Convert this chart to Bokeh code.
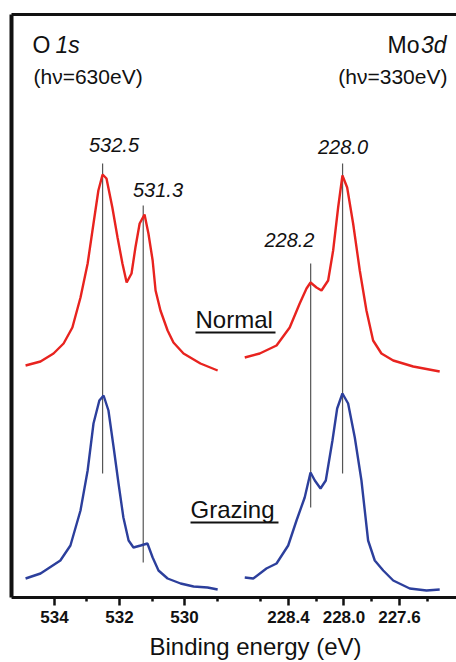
from bokeh.plotting import figure
from bokeh.models import Range1d, LinearAxis, FixedTicker, Label, NumeralTickFormatter
from bokeh.embed import file_html
from bokeh.resources import INLINE

# ---------------- data (binding energy in eV, intensity in arbitrary units) -------------
# O 1s, hv = 630 eV
o1s_be_normal = [534.89, 534.43, 534.03, 533.72, 533.45, 533.20, 532.98, 532.80, 532.65, 532.52,
                 532.40, 532.22, 532.06, 531.91, 531.78, 531.63, 531.51, 531.38, 531.23, 531.11,
                 530.98, 530.89, 530.74, 530.52, 530.34, 530.03, 529.51, 528.98]
o1s_normal = [232, 236, 244, 254, 270, 300, 334, 374, 407, 423,
              419, 390, 360, 334, 315, 324, 350, 374, 383, 364,
              337, 307, 287, 267, 255, 244, 234, 227]

o1s_be_grazing = [534.89, 534.43, 533.82, 533.51, 533.20, 532.98, 532.80, 532.62, 532.49, 532.34,
                  532.18, 532.03, 531.88, 531.72, 531.57, 531.35, 531.14, 530.98, 530.80, 530.52,
                  530.12, 529.72, 529.29, 528.98]
o1s_grazing = [19, 24, 37, 52, 87, 127, 174, 197, 202, 187,
               150, 114, 80, 57, 50, 52, 54, 40, 27, 19,
               14, 11, 10, 8]

# Mo 3d, hv = 330 eV
mo3d_be_normal = [228.715, 228.607, 228.486, 228.391, 228.319, 228.270, 228.241, 228.198, 228.162, 228.114,
                  228.078, 228.042, 228.011, 227.977, 227.934, 227.886, 227.838, 227.790, 227.730, 227.645,
                  227.501, 227.310]
mo3d_normal = [240, 244, 252, 270, 294, 309, 315, 310, 307, 317,
               347, 390, 422, 410, 374, 327, 287, 257, 244, 237,
               231, 226]

mo3d_be_grazing = [228.715, 228.654, 228.559, 228.486, 228.402, 228.342, 228.283, 228.241, 228.210, 228.169,
                   228.131, 228.083, 228.049, 228.011, 227.970, 227.922, 227.874, 227.826, 227.778, 227.717,
                   227.645, 227.526, 227.405, 227.310]
mo3d_grazing = [20, 19, 29, 34, 52, 77, 100, 125, 117, 109,
                117, 157, 189, 204, 194, 160, 117, 57, 37, 27,
                17, 9, 7, 8]

# peak markers
o1s_peak_labels = ["532.5", "531.3"]
o1s_peak_be = [532.52, 531.27]
o1s_peak_top = [434, 392]
o1s_peak_bottom = [124, 35]

mo3d_peak_labels = ["228.2", "228.0"]
mo3d_peak_be = [228.24, 228.01]
mo3d_peak_top = [334, 434]
mo3d_peak_bottom = [90, 124]

# axis ticks
o1s_ticks = [534, 532, 530]
o1s_minor = [533, 531, 529]
mo3d_ticks = [228.4, 228.0, 227.6]
mo3d_minor = [228.6, 228.2, 227.8, 227.4]

x_title = "Binding energy (eV)"

# ---------------- figure -------------------------------------------------------------
FONT = "Liberation Sans"
RED = "#e8231f"
BLUE = "#2c3f9c"
INK = "#111111"
TEXT_SHIFT = 9   # compensation of the text baseline placement

p = figure(width=456, height=662, output_backend="svg", toolbar_location=None,
           x_range=Range1d(535.323, 521.631), y_range=Range1d(-65, 583),
           x_axis_location=None, y_axis_location=None,
           min_border_left=11, min_border_right=0, min_border_top=14, min_border_bottom=0)
p.extra_x_ranges = {"mo": Range1d(230.396, 227.189)}
p.outline_line_color = None
p.grid.visible = False
p.background_fill_color = "white"
p.border_fill_color = "white"


def border_axis(width, bounds="auto"):
    return LinearAxis(ticker=FixedTicker(ticks=[]), axis_line_width=width, axis_line_color=INK,
                      major_tick_out=0, major_tick_in=0, minor_tick_out=0, minor_tick_in=0,
                      major_label_standoff=0, major_label_text_font_size="0px", bounds=bounds)


p.add_layout(border_axis(4, bounds=(0, 583)), "left")
p.add_layout(border_axis(3), "above")


def bottom_axis(ticks, minor, fmt, rng):
    ax = LinearAxis(x_range_name=rng, fixed_location=0,
                    ticker=FixedTicker(ticks=ticks, minor_ticks=minor),
                    formatter=NumeralTickFormatter(format=fmt))
    ax.axis_line_width = 3
    ax.axis_line_color = INK
    ax.major_tick_out = 8
    ax.major_tick_in = 0
    ax.minor_tick_out = 4
    ax.minor_tick_in = 0
    ax.major_tick_line_width = 2.5
    ax.minor_tick_line_width = 2.5
    ax.major_tick_line_color = INK
    ax.minor_tick_line_color = INK
    ax.major_label_standoff = 5
    ax.major_label_text_font = FONT
    ax.major_label_text_font_style = "bold"
    ax.major_label_text_font_size = "17px"
    ax.major_label_text_color = INK
    p.add_layout(ax, "below")


bottom_axis(o1s_ticks, o1s_minor, "0", "default")
bottom_axis(mo3d_ticks, mo3d_minor, "0.0", "mo")

# peak marker lines
p.segment(x0=o1s_peak_be, x1=o1s_peak_be, y0=o1s_peak_bottom, y1=o1s_peak_top,
          line_color="#555555", line_width=1.2)
p.segment(x0=mo3d_peak_be, x1=mo3d_peak_be, y0=mo3d_peak_bottom, y1=mo3d_peak_top,
          line_color="#555555", line_width=1.2, x_range_name="mo")

# spectra
p.line(o1s_be_normal, o1s_normal, line_color=RED, line_width=2.4)
p.line(o1s_be_grazing, o1s_grazing, line_color=BLUE, line_width=2.4)
p.line(mo3d_be_normal, mo3d_normal, line_color=RED, line_width=2.4, x_range_name="mo")
p.line(mo3d_be_grazing, mo3d_grazing, line_color=BLUE, line_width=2.4, x_range_name="mo")


def add_label(x, y, text, size, style="normal", align="left", rng="default"):
    p.add_layout(Label(x=x, y=y + TEXT_SHIFT, text=text, text_font=FONT, text_font_size=size,
                       text_font_style=style, text_align=align, text_baseline="alphabetic",
                       text_color=INK, x_range_name=rng))


# panel headers
add_label(534.677, 544, "O", "23px")
add_label(533.969, 544, "1s", "23px", style="italic")
add_label(534.646, 512, "(hν=630eV)", "21px")
add_label(227.456, 544, "Mo", "23px", align="right", rng="mo")
add_label(227.261, 544, "3d", "23px", style="italic", align="right", rng="mo")
add_label(227.254, 512, "(hν=330eV)", "21px", align="right", rng="mo")

# peak labels
add_label(532.169, 444, o1s_peak_labels[0], "20px", style="italic", align="center")
add_label(530.815, 399, o1s_peak_labels[1], "20px", style="italic", align="center")
add_label(228.393, 349, mo3d_peak_labels[0], "20px", style="italic", align="center", rng="mo")
add_label(228.007, 442, mo3d_peak_labels[1], "20px", style="italic", align="center", rng="mo")

# series names (underlined)
add_label(529.662, 269, "Normal", "24px")
add_label(529.815, 79, "Grazing", "24px")
p.segment(x0=[529.662, 529.815], x1=[527.200, 527.108], y0=[265, 75], y1=[265, 75],
          line_color=INK, line_width=2)

# x-axis title
add_label(527.815, -58, x_title, "24px", align="center")

open("out.html", "w").write(file_html(p, INLINE))
